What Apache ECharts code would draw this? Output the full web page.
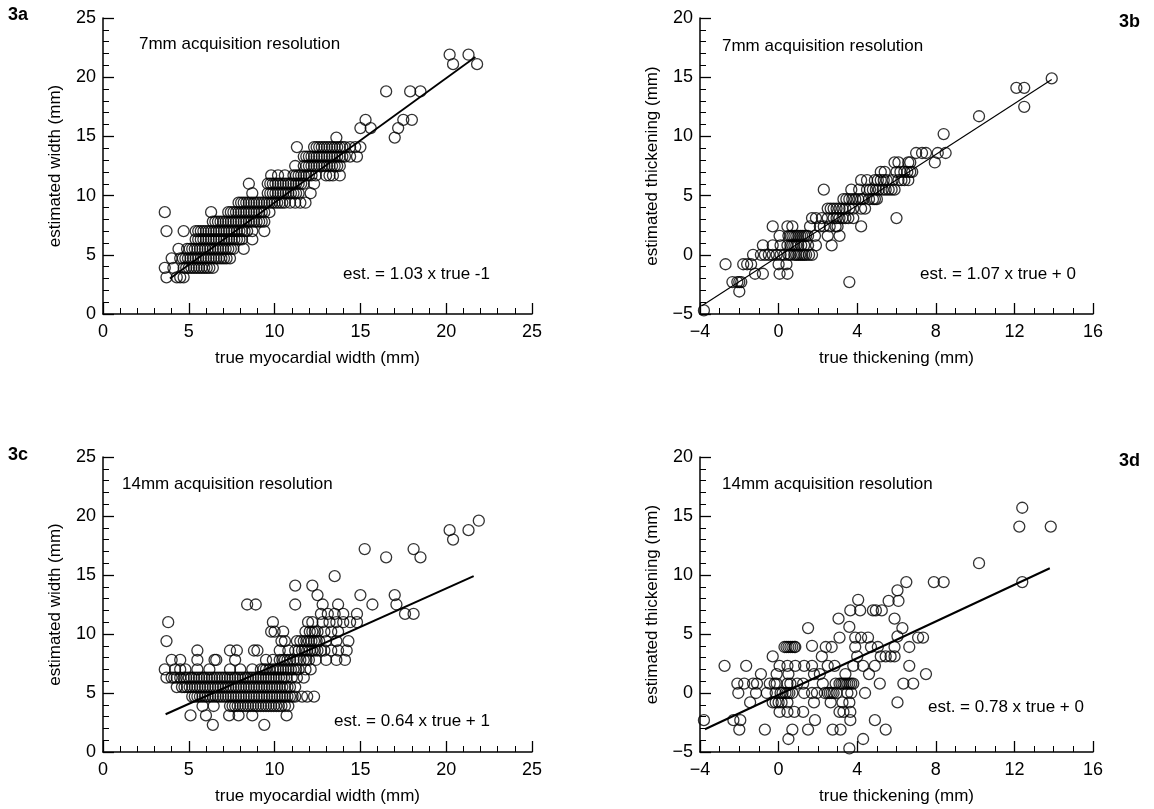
<!DOCTYPE html>
<html><head><meta charset="utf-8">
<script src="https://cdn.jsdelivr.net/npm/echarts@6/dist/echarts.min.js"></script>
<style>html,body{margin:0;padding:0;background:#fff}#c{width:1154px;height:809px}</style>
</head><body><div id="c"></div>
<script>
// ---------- DATA ----------
// Panel 3a : 7mm, width  [true, estimated]
const pointsA = [
 [3.7,3.1],[4.3,3.1],[4.5,3.1],[4.7,3.1],
 [3.6,3.9],[4.1,3.9],[4.7,3.9],[5.0,3.9],[5.3,3.9],[5.6,3.9],[5.9,3.9],[6.2,3.9],[6.4,3.9],
 [4.85,3.9],[5.15,3.9],[5.45,3.9],[5.75,3.9],[6.05,3.9],
 [4.0,4.7],[4.5,4.7],[4.8,4.7],[5.1,4.7],[5.4,4.7],[5.7,4.7],[6.0,4.7],[6.3,4.7],[6.6,4.7],[6.9,4.7],[7.2,4.7],[7.4,4.7],
 [4.65,4.7],[4.95,4.7],[5.25,4.7],[5.55,4.7],[5.85,4.7],[6.15,4.7],[6.45,4.7],[6.75,4.7],[7.05,4.7],
 [4.4,5.5],[4.9,5.5],[5.2,5.5],[5.5,5.5],[5.8,5.5],[6.1,5.5],[6.4,5.5],[6.7,5.5],[7.0,5.5],[7.3,5.5],[7.6,5.5],[8.2,5.5],
 [5.05,5.5],[5.35,5.5],[5.65,5.5],[5.95,5.5],[6.25,5.5],[6.55,5.5],[6.85,5.5],[7.15,5.5],[7.45,5.5],
 [5.4,6.3],[5.7,6.3],[6.0,6.3],[6.3,6.3],[6.6,6.3],[6.9,6.3],[7.2,6.3],[7.5,6.3],[7.8,6.3],[8.1,6.3],[8.7,6.3],
 [5.55,6.3],[5.85,6.3],[6.15,6.3],[6.45,6.3],[6.75,6.3],[7.05,6.3],[7.35,6.3],[7.65,6.3],[7.95,6.3],
 [3.7,7.0],[4.7,7.0],[5.4,7.0],[5.7,7.0],[6.0,7.0],[6.3,7.0],[6.6,7.0],[6.9,7.0],[7.2,7.0],[7.5,7.0],[7.8,7.0],[8.1,7.0],[8.4,7.0],[8.7,7.0],[9.4,7.0],
 [5.55,7.0],[5.85,7.0],[6.15,7.0],[6.45,7.0],[6.75,7.0],[7.05,7.0],[7.35,7.0],[7.65,7.0],[7.95,7.0],[8.25,7.0],
 [6.4,7.8],[6.7,7.8],[7.0,7.8],[7.3,7.8],[7.6,7.8],[7.9,7.8],[8.2,7.8],[8.5,7.8],[8.8,7.8],[9.1,7.8],[9.4,7.8],
 [6.55,7.8],[6.85,7.8],[7.15,7.8],[7.45,7.8],[7.75,7.8],[8.05,7.8],[8.35,7.8],[8.65,7.8],[8.95,7.8],[9.25,7.8],
 [3.6,8.6],[6.3,8.6],[7.3,8.6],[7.6,8.6],[7.9,8.6],[8.2,8.6],[8.5,8.6],[8.8,8.6],[9.1,8.6],[9.4,8.6],[9.7,8.6],
 [7.45,8.6],[7.75,8.6],[8.05,8.6],[8.35,8.6],[8.65,8.6],[8.95,8.6],[9.25,8.6],
 [7.9,9.4],[8.2,9.4],[8.5,9.4],[8.8,9.4],[9.1,9.4],[9.4,9.4],[9.7,9.4],[10.0,9.4],[10.3,9.4],[10.6,9.4],[10.9,9.4],[11.2,9.4],[11.5,9.4],[11.8,9.4],
 [8.05,9.4],[8.35,9.4],[8.65,9.4],[8.95,9.4],[9.25,9.4],[9.55,9.4],[9.85,9.4],[10.15,9.4],[10.45,9.4],
 [8.7,10.2],[9.6,10.2],[9.9,10.2],[10.2,10.2],[10.5,10.2],[10.8,10.2],[11.1,10.2],[11.4,10.2],[12.1,10.2],
 [9.75,10.2],[10.05,10.2],[10.35,10.2],[10.65,10.2],[10.95,10.2],[11.25,10.2],
 [8.5,11.0],[9.6,11.0],[9.9,11.0],[10.2,11.0],[10.5,11.0],[10.8,11.0],[11.1,11.0],[11.4,11.0],[11.7,11.0],[12.3,11.0],
 [9.75,11.0],[10.05,11.0],[10.35,11.0],[10.65,11.0],[10.95,11.0],[11.25,11.0],[11.55,11.0],
 [9.8,11.7],[10.2,11.7],[10.6,11.7],[11.1,11.7],[11.4,11.7],[11.7,11.7],[12.0,11.7],[12.4,11.7],[13.0,11.7],[13.4,11.7],[13.8,11.7],
 [11.25,11.7],[11.55,11.7],[11.85,11.7],[12.15,11.7],[13.2,11.7],
 [11.2,12.5],[11.7,12.5],[12.0,12.5],[12.3,12.5],[12.6,12.5],[12.9,12.5],[13.2,12.5],[13.5,12.5],[13.8,12.5],
 [11.85,12.5],[12.15,12.5],[12.45,12.5],[12.75,12.5],[13.05,12.5],[13.35,12.5],[13.65,12.5],
 [11.7,13.3],[12.0,13.3],[12.3,13.3],[12.6,13.3],[12.9,13.3],[13.2,13.3],[13.5,13.3],[13.8,13.3],[14.1,13.3],[14.4,13.3],[14.8,13.3],
 [11.85,13.3],[12.15,13.3],[12.45,13.3],[12.75,13.3],[13.05,13.3],[13.35,13.3],[13.65,13.3],[13.95,13.3],
 [11.3,14.1],[12.3,14.1],[12.6,14.1],[12.9,14.1],[13.2,14.1],[13.5,14.1],[13.8,14.1],[14.1,14.1],[14.4,14.1],[14.7,14.1],[15.0,14.1],
 [12.45,14.1],[12.75,14.1],[13.05,14.1],[13.35,14.1],[13.65,14.1],[13.95,14.1],
 [13.6,14.9],[17.0,14.9],
 [15.0,15.7],[15.6,15.7],[17.2,15.7],
 [15.3,16.4],[17.5,16.4],[18.0,16.4],
 [16.5,18.8],[17.9,18.8],[18.5,18.8],
 [20.4,21.1],[21.8,21.1],
 [20.2,21.9],[21.3,21.9]
];
const fitA = [[3.9,3.0],[21.7,21.7]];

// Panel 3b : 7mm, thickening
const pointsB = [
 [-3.8,-4.7],[-2.7,-0.8],[-2.35,-2.3],[-2.1,-2.3],[-1.9,-2.3],[-2.0,-2.3],[-2.0,-3.1],
 [-1.8,-0.8],[-1.6,-0.8],[-1.4,-0.8],[-1.3,0],[-1.2,-1.6],[-0.8,0.8],[-0.8,-1.6],
 [-0.9,0],[-0.7,0],[-0.5,0],[-0.3,0],[-0.1,0],[0.1,0],[0.3,0],[0.5,0],
 [-0.3,2.4],[-0.3,0.8],[0.05,1.6],[0,-0.8],[0.05,-1.6],[0.45,-1.6],[0.4,-0.8],
 [0.1,0.8],[0.45,0.8],[0.45,2.4],[0.7,2.4],
 [0.5,1.6],[0.7,1.6],[0.9,1.6],[1.1,1.6],[1.3,1.6],[1.5,1.6],
 [0.6,1.6],[0.8,1.6],[1.0,1.6],[1.2,1.6],[1.4,1.6],
 [0.6,0.8],[0.8,0.8],[1.0,0.8],[1.3,0.8],[1.5,0.8],[0.7,0.8],[0.9,0.8],[1.15,0.8],
 [0.6,0],[0.8,0],[1.0,0],[1.2,0],[1.4,0],[1.7,0],[0.9,0],[1.1,0],[1.3,0],[1.55,0],
 [1.6,2.4],[1.7,3.1],[1.85,1.6],[1.9,0.8],
 [1.9,3.1],[2.2,3.1],[2.5,3.1],[2.3,5.5],
 [2.1,2.4],[2.3,2.4],[2.6,2.4],[2.9,2.4],[3.0,2.4],
 [2.5,1.6],[2.7,0.8],[3.1,1.6],
 [2.5,3.9],[2.8,3.9],[3.1,3.9],[3.4,3.9],[3.6,3.9],[3.8,3.9],[2.65,3.9],[2.95,3.9],[3.25,3.9],
 [2.8,3.1],[3.1,3.1],[3.4,3.1],[3.8,3.1],[2.95,3.1],[3.25,3.1],[3.55,3.1],
 [3.3,4.7],[3.6,4.7],[3.9,4.7],[4.2,4.7],[3.45,4.7],[3.75,4.7],[4.05,4.7],
 [3.6,-2.3],[3.7,5.5],[4.1,5.5],
 [4.2,2.4],[4.2,3.9],[4.4,3.9],
 [4.3,4.7],[4.6,4.7],[4.8,4.7],[4.9,4.7],
 [4.2,6.3],[4.5,6.3],[4.5,5.5],[4.8,5.5],[5.1,5.5],[5.0,4.7],[4.65,5.5],[4.95,5.5],
 [5.2,7.0],[5.4,7.0],[4.9,6.3],[5.2,6.3],[5.5,6.3],[5.05,6.3],[5.35,6.3],
 [5.3,5.5],[5.6,5.5],[5.9,5.5],[5.8,6.3],[6.0,3.1],[5.45,5.5],[5.75,5.5],
 [5.9,7.8],[6.1,7.8],[6.6,7.8],[6.7,7.8],
 [6.0,7.0],[6.4,7.0],[6.7,7.0],[6.1,6.3],[6.4,6.3],[6.6,6.3],[6.2,7.0],[6.55,7.0],[6.25,6.3],
 [6.8,7.0],[7.0,8.6],[7.3,8.6],[7.5,8.6],
 [7.95,7.8],[8.1,8.6],[8.4,10.2],[8.5,8.6],
 [10.2,11.7],[12.1,14.1],[12.5,14.1],[12.5,12.5],[13.9,14.9]
];
const fitB = [[-3.9,-4.3],[13.9,14.8]];

// Panel 3c : 14mm, width
const pointsC = [
 [6.4,2.3],[9.4,2.3],
 [5.1,3.1],[6.0,3.1],[7.35,3.1],[7.9,3.1],[8.7,3.1],[10.7,3.1],
 [5.8,3.9],[6.45,3.9],[7.4,3.9],[7.7,3.9],[8.0,3.9],[8.3,3.9],[8.6,3.9],[8.9,3.9],[9.2,3.9],[9.5,3.9],[9.8,3.9],[10.1,3.9],[10.4,3.9],[10.8,3.9],
 [7.55,3.9],[7.85,3.9],[8.15,3.9],[8.45,3.9],[8.75,3.9],[9.05,3.9],[9.35,3.9],[9.65,3.9],[9.95,3.9],[10.25,3.9],[10.6,3.9],
 [5.2,4.7],[5.5,4.7],[5.8,4.7],[6.1,4.7],[6.4,4.7],[6.7,4.7],[7.0,4.7],[7.3,4.7],[7.6,4.7],[7.9,4.7],[8.2,4.7],[8.5,4.7],[8.8,4.7],[9.1,4.7],[9.4,4.7],[9.7,4.7],[10.0,4.7],[10.3,4.7],[10.6,4.7],[10.9,4.7],[11.2,4.7],[11.6,4.7],[11.9,4.7],[12.3,4.7],
 [5.35,4.7],[5.65,4.7],[5.95,4.7],[6.25,4.7],[6.55,4.7],[6.85,4.7],[7.15,4.7],[7.45,4.7],[7.75,4.7],[8.05,4.7],[8.35,4.7],[8.65,4.7],[8.95,4.7],[9.25,4.7],[9.55,4.7],[9.85,4.7],[10.15,4.7],[10.45,4.7],[10.75,4.7],[11.05,4.7],
 [4.3,5.5],[4.6,5.5],[4.9,5.5],[5.2,5.5],[5.5,5.5],[5.8,5.5],[6.1,5.5],[6.4,5.5],[6.7,5.5],[7.0,5.5],[7.3,5.5],[7.6,5.5],[7.9,5.5],[8.2,5.5],[8.5,5.5],[8.8,5.5],[9.1,5.5],[9.4,5.5],[9.7,5.5],[10.0,5.5],[10.3,5.5],[10.6,5.5],[10.9,5.5],[11.2,5.5],
 [4.75,5.5],[5.05,5.5],[5.35,5.5],[5.65,5.5],[5.95,5.5],[6.25,5.5],[6.55,5.5],[6.85,5.5],[7.15,5.5],[7.45,5.5],[7.75,5.5],[8.05,5.5],[8.35,5.5],[8.65,5.5],[8.95,5.5],[9.25,5.5],[9.55,5.5],[9.85,5.5],[10.15,5.5],[10.45,5.5],[10.75,5.5],
 [3.7,6.3],[4.0,6.3],[4.3,6.3],[4.7,6.3],[5.0,6.3],[5.3,6.3],[5.6,6.3],[5.9,6.3],[6.2,6.3],[6.5,6.3],[6.8,6.3],[7.1,6.3],[7.4,6.3],[7.7,6.3],[8.0,6.3],[8.3,6.3],[8.6,6.3],[8.9,6.3],[9.2,6.3],[9.5,6.3],[9.8,6.3],[10.1,6.3],[10.4,6.3],[10.7,6.3],[11.0,6.3],[11.3,6.3],[11.7,6.3],
 [4.15,6.3],[4.5,6.3],[4.85,6.3],[5.15,6.3],[5.45,6.3],[5.75,6.3],[6.05,6.3],[6.35,6.3],[6.65,6.3],[6.95,6.3],[7.25,6.3],[7.55,6.3],[7.85,6.3],[8.15,6.3],[8.45,6.3],[8.75,6.3],[9.05,6.3],[9.35,6.3],[9.65,6.3],[9.95,6.3],[10.25,6.3],[10.55,6.3],
 [3.6,7.0],[4.2,7.0],[4.5,7.0],[4.8,7.0],[5.5,7.0],[6.2,7.0],[7.4,7.0],[8.0,7.0],[8.7,7.0],[9.2,7.0],[9.5,7.0],[9.9,7.0],[10.2,7.0],[10.5,7.0],[10.8,7.0],[11.1,7.0],[11.4,7.0],[11.8,7.0],[12.1,7.0],
 [9.35,7.0],[9.7,7.0],[10.05,7.0],[10.35,7.0],[10.65,7.0],[10.95,7.0],[11.25,7.0],
 [4.0,7.8],[4.5,7.8],[5.5,7.8],[6.5,7.8],[6.6,7.8],[7.7,7.8],[9.5,7.8],[9.9,7.8],[10.3,7.8],[10.6,7.8],[10.9,7.8],[11.3,7.8],[11.7,7.8],[12.0,7.8],[12.4,7.8],[13.0,7.8],[13.6,7.8],[14.1,7.8],
 [10.45,7.8],[10.75,7.8],[11.1,7.8],[11.5,7.8],[11.85,7.8],
 [5.5,8.6],[7.4,8.6],[7.8,8.6],[8.8,8.6],[9.0,8.6],[10.3,8.6],[10.8,8.6],[11.2,8.6],[11.6,8.6],[11.9,8.6],[12.2,8.6],[12.5,8.6],[12.9,8.6],[13.3,8.6],[13.7,8.6],[14.2,8.6],
 [11.4,8.6],[11.75,8.6],[12.05,8.6],[12.35,8.6],[12.7,8.6],
 [3.7,9.4],[10.4,9.4],[10.6,9.4],[11.3,9.4],[11.7,9.4],[12.0,9.4],[12.3,9.4],[12.6,9.4],[13.0,9.4],[13.6,9.4],[14.3,9.4],
 [11.5,9.4],[11.85,9.4],[12.15,9.4],[12.45,9.4],
 [9.8,10.2],[10.0,10.2],[10.5,10.2],[11.8,10.2],[12.2,10.2],[12.5,10.2],[12.9,10.2],[13.3,10.2],[13.7,10.2],
 [12.05,10.2],[12.35,10.2],
 [3.8,11.0],[9.9,11.0],[11.95,11.0],[12.2,11.0],[12.8,11.0],[13.2,11.0],[13.6,11.0],[14.0,11.0],[14.4,11.0],[14.8,11.0],
 [12.7,11.7],[13.1,11.7],[13.5,11.7],[14.0,11.7],[14.8,11.7],[17.6,11.7],[18.1,11.7],
 [8.4,12.5],[8.9,12.5],[11.2,12.5],[12.8,12.5],[13.7,12.5],[15.7,12.5],[17.1,12.5],
 [12.5,13.3],[15.0,13.3],[17.0,13.3],
 [11.2,14.1],[12.2,14.1],[13.5,14.9],
 [16.5,16.5],[18.5,16.5],[15.25,17.2],[18.1,17.2],
 [20.4,18.0],[20.2,18.8],[21.3,18.8],[21.9,19.6]
];
const fitC = [[3.65,3.2],[21.6,14.9]];

// Panel 3d : 14mm, thickening
const pointsD = [
 [-3.8,-2.3],[-2.75,2.3],[-2.3,-2.3],[-2.0,-3.1],[-1.95,-2.3],
 [-2.1,0.8],[-2.05,0],[-1.75,0.8],[-1.65,2.3],[-1.45,-0.8],
 [-1.3,0.8],[-1.1,0.8],[-1.15,0],[-0.9,1.6],[-0.7,-3.1],[-0.6,0],
 [-0.45,0.8],[-0.2,0.8],[-0.1,0.8],[-0.3,3.1],
 [-0.3,-0.8],[0,-0.8],[0.15,-0.8],[-0.15,-0.8],
 [-0.15,0],[0.1,0],[0.35,0],[0.55,0],[0.2,0],[0.45,0],
 [0.05,2.3],[-0.1,1.6],[0.05,-1.6],
 [0.3,3.9],[0.5,3.9],[0.7,3.9],[0.85,3.9],[0.4,3.9],[0.6,3.9],[0.8,3.9],
 [0.45,2.3],[0.5,1.6],[0.45,0.8],[0.6,0.8],[0.7,0],
 [0.45,-1.6],[0.45,-0.8],[0.5,-3.9],[0.7,-3.1],
 [0.85,2.3],[0.8,-1.6],[0.95,0.8],[1.25,0.8],
 [1.25,-1.6],[1.3,2.3],[1.3,0],
 [1.5,5.5],[1.5,-3.1],[1.7,4.0],[1.7,2.3],[1.7,0],[1.95,0],
 [1.8,1.6],[1.8,-0.8],[1.85,-2.3],[2.1,1.6],
 [2.2,3.1],[2.4,3.9],[2.25,0.8],
 [2.35,0],[2.6,0],[2.8,0],[2.95,0],[2.5,0],[2.7,0],
 [2.5,2.3],[2.7,3.9],[2.85,2.3],[2.65,-0.8],[2.75,-3.1],
 [2.9,0.8],[3.1,0.8],[3.3,0.8],[3.5,0.8],[3.7,0.8],[3.8,0.8],[3.2,0.8],[3.4,0.8],[3.6,0.8],
 [3.05,6.3],[3.1,4.7],[3.15,-3.1],[3.1,-1.6],[3.3,-1.6],
 [3.4,1.6],[3.25,-0.8],[3.6,-0.8],[3.5,0],[3.7,0],
 [3.6,5.6],[3.6,-4.7],[3.65,7.0],[3.65,-2.3],[3.65,-1.6],
 [3.8,2.3],[3.9,3.9],[3.9,4.7],
 [4.05,7.9],[4.15,7.0],[4.0,3.1],[4.2,4.7],[4.3,2.3],
 [4.4,0],[4.3,-3.9],[4.55,4.7],[4.6,1.6],[4.7,3.9],
 [4.8,7.0],[4.95,7.0],[4.9,-2.3],[4.9,2.3],[5.05,3.9],
 [5.15,0.8],[5.25,7.0],[5.2,3.1],[5.45,3.1],[5.7,3.1],[5.45,-3.1],
 [5.6,7.8],[5.9,6.3],[5.9,3.1],[5.9,3.9],[6.05,4.8],[6.1,7.8],
 [6.05,8.7],[6.05,-0.8],[6.3,5.5],[6.35,0.8],[6.5,9.4],
 [6.65,3.9],[6.65,2.3],[6.85,0.8],[7.1,4.7],[7.35,4.7],[7.5,1.6],
 [7.9,9.4],[8.4,9.4],[10.2,11.0],
 [12.25,14.1],[12.4,15.7],[12.4,9.4],[13.85,14.1]
];
const fitD = [[-3.75,-3.07],[13.8,10.57]];

// axis setup values
const xNames = ['true myocardial width (mm)','true thickening (mm)','true myocardial width (mm)','true thickening (mm)'];
const yNames = ['estimated width (mm)','estimated thickening (mm)','estimated width (mm)','estimated thickening (mm)'];
const xRange = [[0,25,5],[-4,16,4],[0,25,5],[-4,16,4]];
const yRange = [[0,25,5],[-5,20,5],[0,25,5],[-5,20,5]];
const panelTags = ['3a','3b','3c','3d'];
const resTexts = ['7mm acquisition resolution','7mm acquisition resolution','14mm acquisition resolution','14mm acquisition resolution'];
const eqTexts = ['est. = 1.03 x true -1','est. = 1.07 x true + 0','est. = 0.64 x true + 1','est. = 0.78 x true + 0'];

// ---------- CHART ----------
const F = '"Liberation Sans", Arial, Helvetica, sans-serif';
const grids = [
 {left:103, top:18, width:429, height:296},
 {left:700, top:18, width:393, height:296},
 {left:103, top:457, width:429, height:295},
 {left:700, top:457, width:393, height:295}
];
const fmt = v => String(v).replace('-', '\u2212');
function axis(i, r, name, isX){
 return {
  type:'value', gridIndex:i, min:r[0], max:r[1], interval:r[2],
  name:name, nameLocation:'middle', nameGap: isX ? 36 : 39,
  nameTextStyle:{fontSize:17, color:'#000', fontFamily:F},
  axisLine:{onZero:false, lineStyle:{color:'#000', width:1.5}},
  axisTick:{inside:true, length:11, lineStyle:{color:'#000', width:1.3}},
  minorTick:{show:true, splitNumber:r[2], length:6, lineStyle:{color:'#000', width:1}},
  splitLine:{show:false}, minorSplitLine:{show:false},
  axisLabel:{fontSize:18, color:'#000', margin: isX ? 9 : 7, fontFamily:F, formatter:fmt}
 };
}
const allPoints = [pointsA, pointsB, pointsC, pointsD];
const allFits = [fitA, fitB, fitC, fitD];
const fitWidths = [1.8, 1.1, 2, 2];
const series = [];
for (let i=0;i<4;i++){
 series.push({type:'scatter', xAxisIndex:i, yAxisIndex:i, data:allPoints[i], symbol:'circle', symbolSize:11,
   itemStyle:{color:'rgba(0,0,0,0)', borderColor:'#000', borderWidth:1.3}, z:3});
 series.push({type:'line', xAxisIndex:i, yAxisIndex:i, data:allFits[i], symbol:'none',
   lineStyle:{color:'#000', width:fitWidths[i]}, z:4});
}
const textPos = {
 tags:[[8,6],[1119,13],[8,446],[1119,452]],
 res:[[139,36],[722,38],[122,476],[722,476]],
 eq:[[343,266],[920,266],[334,713],[928,699]]
};
const graphic = [];
for (let i=0;i<4;i++){
 graphic.push({type:'text', left:textPos.tags[i][0], top:textPos.tags[i][1], style:{text:panelTags[i], font:'bold 18px '+F, fill:'#000'}});
 graphic.push({type:'text', left:textPos.res[i][0], top:textPos.res[i][1], style:{text:resTexts[i], font:'17px '+F, fill:'#000'}});
 graphic.push({type:'text', left:textPos.eq[i][0], top:textPos.eq[i][1], style:{text:eqTexts[i], font:'17px '+F, fill:'#000'}});
}
const chart = echarts.init(document.getElementById('c'), null, {renderer:'canvas'});
chart.setOption({
 animation:false, backgroundColor:'#fff',
 grid:grids,
 xAxis:[0,1,2,3].map(i=>axis(i, xRange[i], xNames[i], true)),
 yAxis:[0,1,2,3].map(i=>axis(i, yRange[i], yNames[i], false)),
 series:series,
 graphic:graphic
});
</script></body></html>
